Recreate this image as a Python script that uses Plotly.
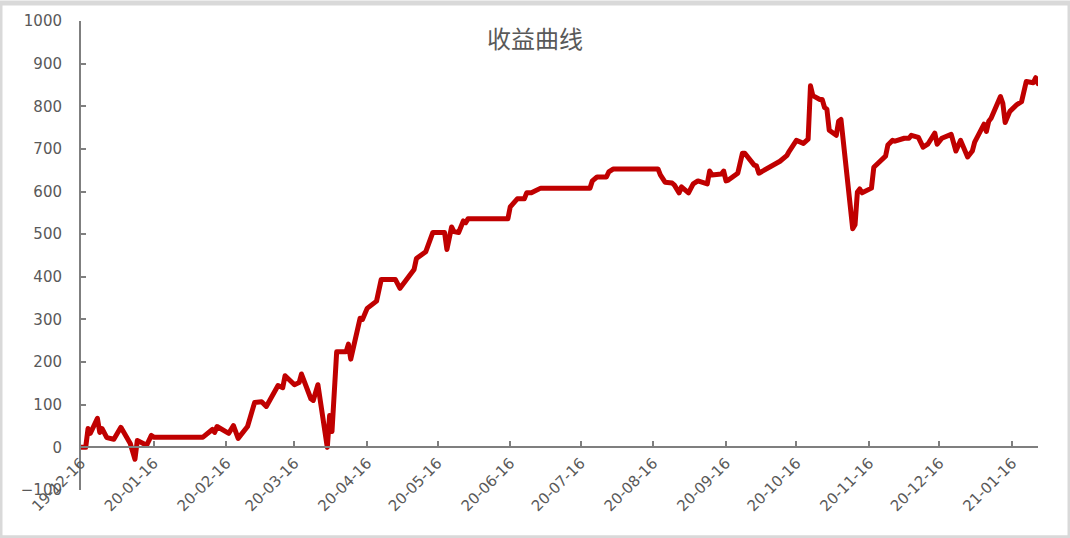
import plotly.graph_objects as go

dates = [
    "2019-12-16", "2019-12-18", "2019-12-19", "2019-12-20", "2019-12-23", "2019-12-24", "2019-12-25", "2019-12-27", "2019-12-30",
    "2020-01-02", "2020-01-06", "2020-01-07", "2020-01-08", "2020-01-09", "2020-01-13", "2020-01-15", "2020-01-16", "2020-02-06",
    "2020-02-10", "2020-02-11", "2020-02-12", "2020-02-17", "2020-02-19", "2020-02-21", "2020-02-25", "2020-02-28",
    "2020-03-02", "2020-03-04", "2020-03-09", "2020-03-11", "2020-03-12", "2020-03-16", "2020-03-18", "2020-03-19", "2020-03-23",
    "2020-03-24", "2020-03-26", "2020-03-30", "2020-03-31",
    "2020-04-01", "2020-04-03", "2020-04-07", "2020-04-08", "2020-04-09", "2020-04-13", "2020-04-14", "2020-04-16", "2020-04-20",
    "2020-04-22", "2020-04-28", "2020-04-30",
    "2020-05-06", "2020-05-07", "2020-05-11", "2020-05-14", "2020-05-19", "2020-05-20", "2020-05-22", "2020-05-23", "2020-05-25",
    "2020-05-27", "2020-05-28", "2020-05-29",
    "2020-06-15", "2020-06-16", "2020-06-19", "2020-06-22", "2020-06-23", "2020-06-25", "2020-06-29",
    "2020-07-20", "2020-07-21", "2020-07-23", "2020-07-27", "2020-07-28", "2020-07-30",
    "2020-08-18", "2020-08-19", "2020-08-21", "2020-08-24", "2020-08-25", "2020-08-27", "2020-08-28", "2020-08-31",
    "2020-09-02", "2020-09-04", "2020-09-08", "2020-09-09", "2020-09-10", "2020-09-14", "2020-09-15", "2020-09-16", "2020-09-17",
    "2020-09-21", "2020-09-22", "2020-09-23", "2020-09-24", "2020-09-26", "2020-09-28", "2020-09-29", "2020-09-30",
    "2020-10-09", "2020-10-12", "2020-10-13", "2020-10-14", "2020-10-16", "2020-10-19", "2020-10-21", "2020-10-22", "2020-10-23",
    "2020-10-26", "2020-10-27", "2020-10-28", "2020-10-29", "2020-10-30",
    "2020-11-02", "2020-11-03", "2020-11-04", "2020-11-09", "2020-11-10", "2020-11-11", "2020-11-12", "2020-11-13", "2020-11-17",
    "2020-11-18", "2020-11-20", "2020-11-23", "2020-11-24", "2020-11-26", "2020-11-27",
    "2020-12-01", "2020-12-03", "2020-12-04", "2020-12-07", "2020-12-09", "2020-12-11", "2020-12-14", "2020-12-15", "2020-12-17",
    "2020-12-21", "2020-12-23", "2020-12-25", "2020-12-28", "2020-12-30", "2020-12-31",
    "2021-01-04", "2021-01-05", "2021-01-06", "2021-01-07", "2021-01-11", "2021-01-12", "2021-01-13", "2021-01-15", "2021-01-18",
    "2021-01-20", "2021-01-22", "2021-01-25", "2021-01-26", "2021-01-27",
]

profit = [
    0, 0, 44, 33, 68, 35, 44, 23, 19,
    47, 9, -14, -28, 16, 5, 28, 24, 24,
    42, 35, 49, 33, 51, 21, 49, 105,
    107, 96, 145, 140, 168, 147, 152, 172, 114,
    110, 147, 0, 75,
    37, 224, 224, 242, 207, 303, 300, 326, 343,
    394, 394, 373,
    417, 443, 459, 504, 504, 464, 517, 506, 504,
    531, 527, 536,
    536, 564, 583, 583, 597, 597, 608,
    608, 625, 634, 634, 646, 653,
    653, 639, 622, 620, 615, 597, 611, 597,
    618, 625, 618, 648, 639, 641, 648, 625, 627,
    643, 662, 690, 690, 676, 662, 660, 643,
    671, 685, 695, 704, 720, 713, 723, 848, 825,
    816, 816, 797, 793, 744,
    732, 765, 769, 513, 522, 599, 606, 597, 608,
    657, 669, 683, 709, 720, 718,
    725, 725, 732, 727, 704, 711, 737, 711, 725,
    734, 695, 720, 681, 695, 716,
    758, 741, 765, 772, 823, 807, 762, 788, 804,
    811, 858, 855, 867, 853,
]

title_text = "收益曲线"
y_min, y_max, y_step = -100, 1000, 100
x_start, x_end = "2019-12-16", "2021-01-27"

W, H = 1070, 538
ML, MR, MT, MB = 81, 32, 18, 48
AXIS_COLOR = "#7f7f7f"
TEXT_COLOR = "#595959"
LINE_COLOR = "#C00000"

fig = go.Figure()
fig.add_trace(go.Scatter(
    x=dates, y=profit, mode="lines",
    line=dict(color=LINE_COLOR, width=5),
    showlegend=False, hoverinfo="x+y",
))

zero_pos = (0 - y_min) / (y_max - y_min)

fig.update_layout(
    width=W, height=H,
    margin=dict(l=ML, r=MR, t=MT, b=MB, pad=0),
    paper_bgcolor="white", plot_bgcolor="white",
    title=dict(text=title_text, x=0.5, xanchor="center", xref="container",
               y=1 - 40 / H, yanchor="middle", yref="container",
               font=dict(family="Noto Sans CJK SC", size=24, color=TEXT_COLOR)),
    xaxis=dict(
        type="date", range=[x_start, x_end],
        anchor="free", position=zero_pos,
        tick0="2019-12-16", dtick="M1", tickformat="%y-%m-%d",
        tickangle=-45, ticks="inside", ticklen=5, tickwidth=2, tickcolor=AXIS_COLOR,
        showline=True, linecolor=AXIS_COLOR, linewidth=2,
        showgrid=False, zeroline=False,
        tickfont=dict(family="DejaVu Sans", size=15, color=TEXT_COLOR),
    ),
    yaxis=dict(
        range=[y_min, y_max], dtick=y_step, tick0=0,
        ticks="inside", ticklen=5, tickwidth=2, tickcolor=AXIS_COLOR,
        showline=True, linecolor=AXIS_COLOR, linewidth=2,
        showgrid=False, zeroline=False,
        ticklabelstandoff=14,
        tickfont=dict(family="DejaVu Sans", size=15, color=TEXT_COLOR),
    ),
)

pw = W - ML - MR
ph = H - MT - MB
fig.add_shape(type="rect", xref="paper", yref="paper",
              x0=(0 - ML) / pw, x1=(W - ML) / pw,
              y0=(0 - MB) / ph, y1=(H - MB) / ph,
              line=dict(color="#d9d9d9", width=5), fillcolor="rgba(0,0,0,0)",
              layer="above")

post = ("document.body.style.margin='0';document.body.style.overflow='hidden';"
        "document.querySelectorAll('.scatterlayer path.js-line')"
        ".forEach(function(p){p.style.strokeLinejoin='round';p.style.strokeLinecap='round';});")
fig.write_html("out.html", post_script=post, config={"displayModeBar": False})
